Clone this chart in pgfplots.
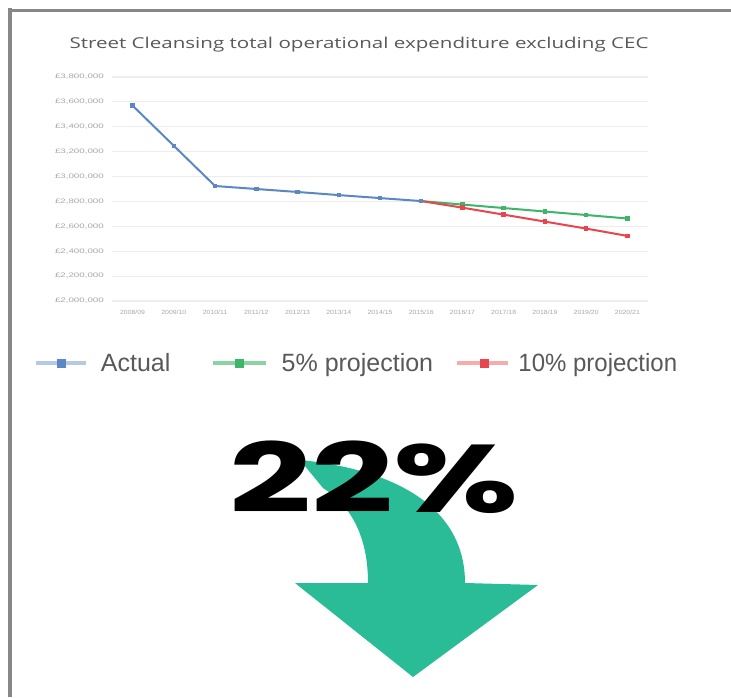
\documentclass[border=0pt]{standalone}
\usepackage{fontspec}
\setmainfont{Liberation Sans}
\newfontfamily\pop{Poppins}
\newfontfamily\osans{Open Sans}
\usepackage{graphicx}
\usepackage{pgfplots}
\pgfplotsset{compat=1.18}
\definecolor{actual}{HTML}{5B87C5}
\definecolor{fivep}{HTML}{3DB56A}
\definecolor{tenp}{HTML}{E8464E}
\definecolor{framegray}{HTML}{878787}
\definecolor{gridgray}{HTML}{EDEDED}
\definecolor{ticktext}{HTML}{A8A8A8}
\definecolor{legtext}{HTML}{595959}
\definecolor{arrowteal}{HTML}{2ABB97}
\newcommand\sx[1]{\scalebox{1.5}[1]{#1}}
\newcommand\sxx[1]{\scalebox{1.15}[1]{#1}}
\begin{document}
\begin{tikzpicture}[x=1pt,y=1pt]
\path[use as bounding box] (0,0) rectangle (731,697);
\fill[white] (0,0) rectangle (731,697);
% frame
\fill[framegray] (8,0) rectangle (12,689);
\fill[framegray] (8,685) rectangle (731,688);
% title
\node[text=legtext, font=\osans\fontsize{15}{15}\selectfont] at (359,652) {\scalebox{1.37}[1]{Street Cleansing total operational expenditure excluding CEC}};
\begin{axis}[
  at={(112pt,396pt)}, anchor=south west,
  scale only axis, width=536pt, height=224pt,
  xmin=-0.5, xmax=12.5, ymin=2000000, ymax=3800000,
  axis line style={draw=none},
  ymajorgrids, grid style={gridgray, line width=1.2pt},
  major tick length=0pt,
  scaled y ticks=false,
  ytick={2000000,2200000,2400000,2600000,2800000,3000000,3200000,3400000,3600000,3800000},
  yticklabels={\sx{£2,000,000},\sx{£2,200,000},\sx{£2,400,000},\sx{£2,600,000},\sx{£2,800,000},\sx{£3,000,000},\sx{£3,200,000},\sx{£3,400,000},\sx{£3,600,000},\sx{£3,800,000}},
  xtick={0,1,2,3,4,5,6,7,8,9,10,11,12},
  xticklabels={\sxx{2008/09},\sxx{2009/10},\sxx{2010/11},\sxx{2011/12},\sxx{2012/13},\sxx{2013/14},\sxx{2014/15},\sxx{2015/16},\sxx{2016/17},\sxx{2017/18},\sxx{2018/19},\sxx{2019/20},\sxx{2020/21}},
  yticklabel style={font=\fontsize{6.5}{7}\selectfont, text=ticktext, inner sep=0pt, anchor=east, xshift=-8pt},
  xticklabel style={font=\fontsize{6}{7}\selectfont, text=ticktext, inner sep=0pt, anchor=north, yshift=-9pt},
  legend style={at={(-0.1455,-0.2768)}, anchor=west, draw=none, fill=none,
    inner sep=0pt, nodes={inner sep=0pt},
    font=\fontsize{25}{25}\selectfont, text=legtext},
  legend columns=3,
  legend cell align=left,
]
\addplot[fivep, line width=2pt, mark=square*, mark size=1.2pt, forget plot]
  coordinates {(7,2803000)(8,2775000)(9,2747000)(10,2719000)(11,2691000)(12,2663000)};
\addplot[tenp, line width=2pt, mark=square*, mark size=1.2pt, forget plot]
  coordinates {(7,2803000)(8,2750000)(9,2694000)(10,2638000)(11,2582000)(12,2523000)};
\addplot[actual, line width=2pt, mark=square*, mark size=1.2pt, forget plot]
  coordinates {(0,3570000)(1,3247000)(2,2924000)(3,2900000)(4,2876000)(5,2851000)(6,2827000)(7,2803000)};
\addlegendimage{legend image code/.code={\path[draw=none,fill=none] (0pt,-5pt) rectangle (65pt,5pt); \draw[actual!45, line width=3.5pt] (0pt,0pt) -- (50pt,0pt); \fill[actual] (21pt,-4pt) rectangle (29pt,4pt);}}
\addlegendentry{\makebox[110pt][l]{Actual}}
\addlegendimage{legend image code/.code={\path[draw=none,fill=none] (0pt,-5pt) rectangle (69pt,5pt); \draw[fivep!60, line width=3.5pt] (0pt,0pt) -- (53pt,0pt); \fill[fivep] (22pt,-4pt) rectangle (30pt,4pt);}}
\addlegendentry{\makebox[174pt][l]{5\% projection}}
\addlegendimage{legend image code/.code={\path[draw=none,fill=none] (0pt,-5pt) rectangle (61pt,5pt); \draw[tenp!45, line width=3.5pt] (0pt,0pt) -- (51pt,0pt); \fill[tenp] (23pt,-4pt) rectangle (31pt,4pt);}}
\addlegendentry{\scalebox{0.96}[1]{10\% projection}}
\end{axis}
% arrow (decoration)
\fill[arrowteal] (300,237) .. controls (400,227) and (465,187) .. (465,114)
  -- (538,112) -- (413,20) -- (295,114) -- (368,114)
  .. controls (368,162) and (350,192) .. (323,209) -- cycle;
% big percentage
\node[anchor=base west, inner sep=0pt, font=\pop\bfseries\fontsize{96}{96}\selectfont] at (229,185) {\scalebox{1.5}[1]{22\%}};
\end{tikzpicture}
\end{document}
